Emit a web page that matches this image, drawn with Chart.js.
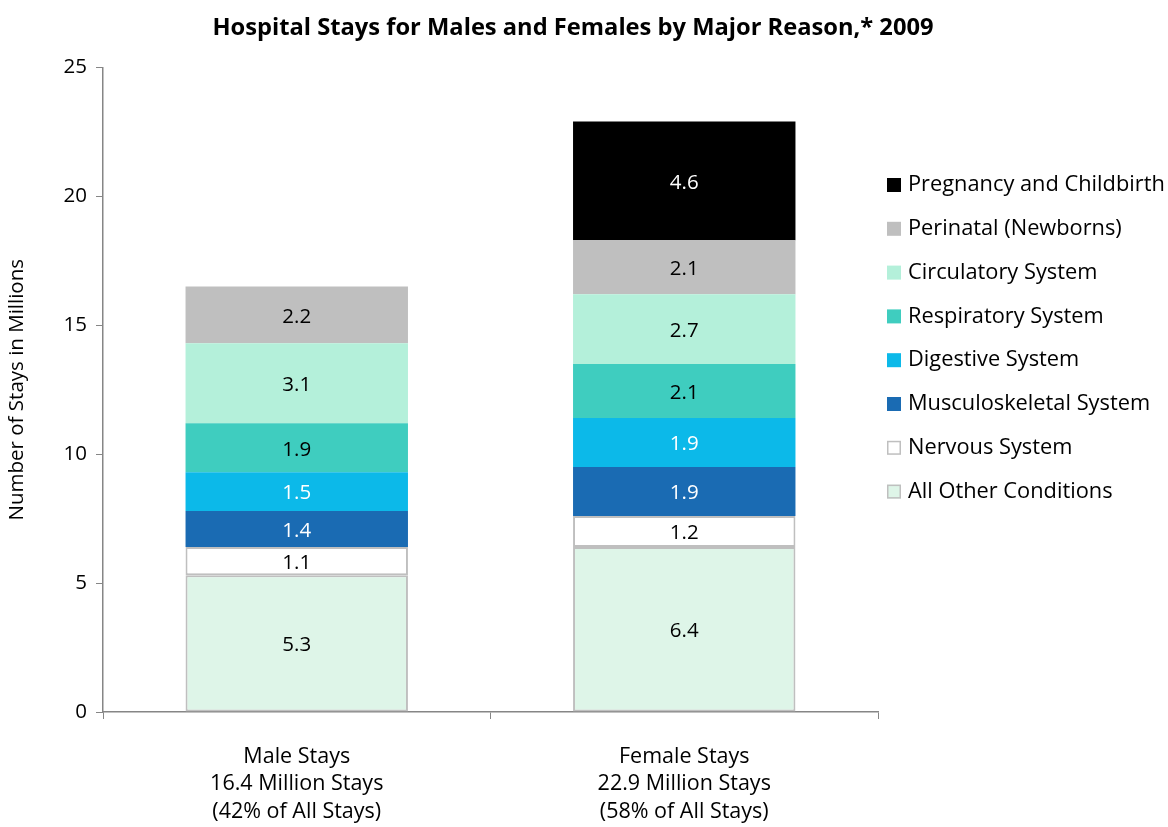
<!DOCTYPE html>
<html>
<head>
<meta charset="utf-8">
<script src="https://cdn.jsdelivr.net/npm/chart.js@4/dist/chart.umd.min.js"></script>
<style>
  html, body { margin: 0; padding: 0; background: #ffffff; }
  #wrap { width: 1168px; height: 827px; }
</style>
</head>
<body>
<div id="wrap"><canvas id="c" width="1168" height="827"></canvas></div>
<script>
// ---- data ----
const categories = [
  ["Male Stays", "16.4 Million Stays", "(42% of All Stays)"],
  ["Female Stays", "22.9 Million Stays", "(58% of All Stays)"]
];
const seriesNames = [
  "All Other Conditions",
  "Nervous System",
  "Musculoskeletal System",
  "Digestive System",
  "Respiratory System",
  "Circulatory System",
  "Perinatal (Newborns)",
  "Pregnancy and Childbirth"
];
const allOther      = [5.3, 6.4];
const nervous       = [1.1, 1.2];
const musculo       = [1.4, 1.9];
const digestive     = [1.5, 1.9];
const respiratory   = [1.9, 2.1];
const circulatory   = [3.1, 2.7];
const perinatal     = [2.2, 2.1];
const pregnancy     = [null, 4.6];
const yTicks        = [0, 5, 10, 15, 20, 25];

const seriesValues = [allOther, nervous, musculo, digestive, respiratory, circulatory, perinatal, pregnancy];
const fills   = ["#DEF5E8", "#FFFFFF", "#1A6BB3", "#0CB9E9", "#3FCDBF", "#B4F0DA", "#BFBFBF", "#000000"];
const borders = ["#BFBFBF", "#BFBFBF", null, null, null, null, null, null];
const labelColors = ["#000", "#000", "#fff", "#fff", "#000", "#000", "#000", "#fff"];

const FONT = "'Open Sans', Lato, sans-serif";

const datasets = seriesNames.map((name, i) => ({
  label: name,
  data: seriesValues[i],
  backgroundColor: fills[i],
  borderColor: borders[i] || fills[i],
  borderWidth: borders[i] ? 2 : 0,
  borderSkipped: false,
  categoryPercentage: 1.0,
  barPercentage: 0.574
}));

const valueLabels = {
  id: 'valueLabels',
  afterDatasetsDraw(chart) {
    const ctx = chart.ctx;
    ctx.save();
    ctx.font = "20.5px " + FONT;
    ctx.textAlign = "center";
    ctx.textBaseline = "middle";
    chart.data.datasets.forEach((ds, i) => {
      const meta = chart.getDatasetMeta(i);
      meta.data.forEach((el, j) => {
        const v = ds.data[j];
        if (v === null || v === undefined) return;
        const cy = (el.y + el.base) / 2 + 2;
        ctx.fillStyle = labelColors[i];
        ctx.fillText(v.toFixed(1), el.x, cy);
      });
    });
    ctx.restore();
  }
};

const sideLegend = {
  id: 'sideLegend',
  afterDraw(chart) {
    const ctx = chart.ctx;
    const ds = chart.data.datasets.map((d, i) => ({ d, i })).reverse();
    const x0 = chart.chartArea.right + 9;
    let y = 185;
    ctx.save();
    ctx.font = "21.8px " + FONT;
    ctx.textBaseline = "middle";
    ctx.textAlign = "left";
    ds.forEach(({ d, i }) => {
      const s = 14;
      ctx.fillStyle = fills[i];
      ctx.fillRect(x0, y - s / 2, s, s);
      if (borders[i]) {
        ctx.strokeStyle = borders[i];
        ctx.lineWidth = 1.5;
        ctx.strokeRect(x0 + 0.75, y - s / 2 + 0.75, s - 1.5, s - 1.5);
      }
      ctx.fillStyle = "#000";
      ctx.fillText(d.label, x0 + 21, y);
      y += 43.8;
    });
    ctx.restore();
  }
};

new Chart(document.getElementById('c'), {
  type: 'bar',
  data: { labels: categories, datasets },
  plugins: [valueLabels, sideLegend],
  options: {
    responsive: false,
    animation: false,
    devicePixelRatio: 1,
    layout: { padding: { left: 0, right: 22, top: 0, bottom: 0 } },
    plugins: {
      legend: { display: false },
      tooltip: { enabled: false },
      title: {
        display: true,
        text: "Hospital Stays for Males and Females by Major Reason,* 2009",
        color: "#000",
        font: { family: FONT, size: 23.7, weight: 'bold' },
        padding: { top: 14, bottom: 25 }
      }
    },
    scales: {
      x: {
        stacked: true,
        grid: { display: true, drawOnChartArea: false, drawTicks: true, tickLength: 7, color: "#868686", offset: true },
        border: { color: "#868686", width: 1.5 },
        ticks: { color: "#000", font: { family: FONT, size: 21.5, lineHeight: 1.28 }, padding: 24, maxRotation: 0 },
        afterFit(scale) { scale.height = 115; }
      },
      y: {
        stacked: true,
        min: 0, max: 25,
        afterBuildTicks(scale) { scale.ticks = yTicks.map(v => ({ value: v })); },
        grid: { display: true, drawOnChartArea: false, drawTicks: true, tickLength: 7, color: "#868686" },
        border: { color: "#868686", width: 1.5 },
        ticks: { color: "#000", font: { family: FONT, size: 20.5 }, padding: 9 },
        title: {
          display: true,
          text: "Number of Stays in Millions",
          color: "#000",
          font: { family: FONT, size: 20.5 },
          padding: { top: 5, bottom: 0 }
        },
        afterFit(scale) { scale.width = 103; }
      },
      legendSpace: {
        type: 'linear',
        position: 'right',
        min: 0, max: 1,
        display: true,
        grid: { display: false, drawTicks: false },
        border: { display: false },
        ticks: { display: false },
        afterFit(scale) { scale.width = 268; }
      }
    }
  }
});
</script>
</body>
</html>
